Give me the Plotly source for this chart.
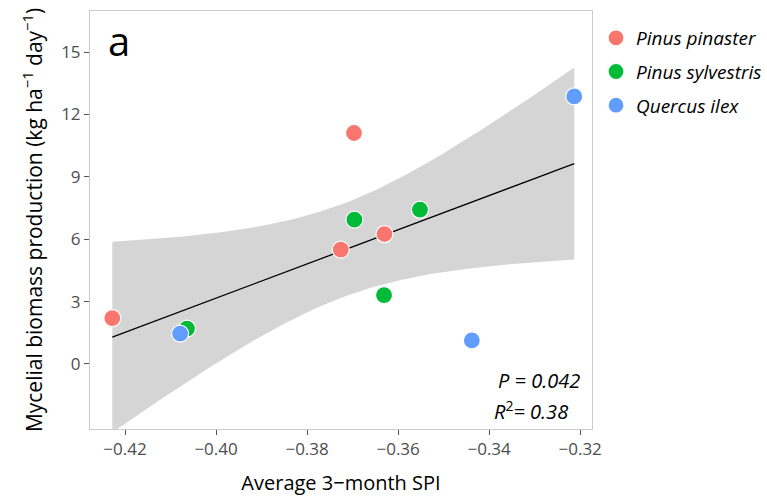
import numpy as np
import plotly.graph_objects as go

# ---- data ----
species = ["Pinus pinaster", "Pinus sylvestris", "Quercus ilex"]
colors = ["#F8766D", "#00BA38", "#619CFF"]

pp_spi = [-0.4228, -0.3726, -0.3630, -0.3697]
pp_myc = [2.20, 5.50, 6.25, 11.11]
ps_spi = [-0.4064, -0.3696, -0.3552, -0.3631]
ps_myc = [1.70, 6.94, 7.42, 3.31]
qi_spi = [-0.4079, -0.3438, -0.3213]
qi_myc = [1.46, 1.13, 12.87]

x_ticks = [-0.42, -0.40, -0.38, -0.36, -0.34, -0.32]
y_ticks = [0, 3, 6, 9, 12, 15]

groups = [(pp_spi, pp_myc), (ps_spi, ps_myc), (qi_spi, qi_myc)]

# ---- linear model with 95% confidence band ----
x_all = np.array(pp_spi + ps_spi + qi_spi)
y_all = np.array(pp_myc + ps_myc + qi_myc)
n = len(x_all)
slope, intercept = np.polyfit(x_all, y_all, 1)
resid = y_all - (intercept + slope * x_all)
s = np.sqrt(np.sum(resid ** 2) / (n - 2))
sxx = np.sum((x_all - x_all.mean()) ** 2)
t_crit = 2.262157  # t(0.975, df=9)
xg = np.linspace(x_all.min(), x_all.max(), 120)
yg = intercept + slope * xg
half = t_crit * s * np.sqrt(1.0 / n + (xg - x_all.mean()) ** 2 / sxx)

fig = go.Figure()
fig.add_trace(go.Scatter(
    x=np.concatenate([xg, xg[::-1]]),
    y=np.concatenate([yg + half, (yg - half)[::-1]]),
    fill="toself", fillcolor="#d5d5d5", line=dict(width=0),
    mode="lines", showlegend=False, hoverinfo="skip"))
fig.add_trace(go.Scatter(x=xg, y=yg, mode="lines",
                         line=dict(color="black", width=1.3),
                         showlegend=False, hoverinfo="skip"))
for name, col, (gx, gy) in zip(species, colors, groups):
    fig.add_trace(go.Scatter(
        x=gx, y=gy, mode="markers", name="<i>" + name + "</i>",
        legendgroup=name,
        marker=dict(color=col, size=17, line=dict(color="white", width=1.2))))

font_family = "Open Sans, Noto Sans, sans-serif"
fig.update_layout(
    width=767, height=504,
    margin=dict(l=90, r=175, t=11, b=75, autoexpand=False),
    paper_bgcolor="white", plot_bgcolor="white",
    font=dict(family=font_family, color="black"),
    legend=dict(x=1.008, y=0.981, xanchor="left", yanchor="top",
                font=dict(size=19, color="black"), itemsizing="trace",
                tracegroupgap=6, bgcolor="rgba(0,0,0,0)"),
    xaxis=dict(range=[-0.4277, -0.3174], tickvals=x_ticks,
               tickformat=".2f", ticks="outside", ticklen=5, tickcolor="#555555",
               tickfont=dict(size=17, color="#4d4d4d"),
               showgrid=False, zeroline=False,
               showline=True, mirror=True, linecolor="#cccccc", linewidth=1,
               title=dict(text="Average 3\u2212month SPI", font=dict(size=20, color="black"),
                          standoff=16)),
    yaxis=dict(range=[-3.13, 16.98], tickvals=y_ticks,
               ticks="outside", ticklen=5, tickcolor="#555555",
               tickfont=dict(size=17, color="#4d4d4d"),
               showgrid=False, zeroline=False,
               showline=True, mirror=True, linecolor="#cccccc", linewidth=1,
               title=dict(text="Mycelial biomass production (kg ha<sup>\u22121</sup> day<sup>\u22121</sup>)",
                          font=dict(size=21, color="black"), standoff=12)),
    annotations=[
        dict(text="a", x=0.058, y=0.93, xref="paper", yref="paper",
             xanchor="center", yanchor="middle", showarrow=False,
             font=dict(size=40, color="black")),
        dict(text="<i>P = 0.042</i>", x=0.98, y=0.115, xref="paper", yref="paper",
             xanchor="right", yanchor="middle", showarrow=False,
             font=dict(size=20, color="black")),
        dict(text="<i>R</i><sup>2</sup><i>= 0.38</i>", x=0.957, y=0.045,
             xref="paper", yref="paper", xanchor="right", yanchor="middle",
             showarrow=False, font=dict(size=20, color="black")),
    ],
)

fig.write_html("out.html")
